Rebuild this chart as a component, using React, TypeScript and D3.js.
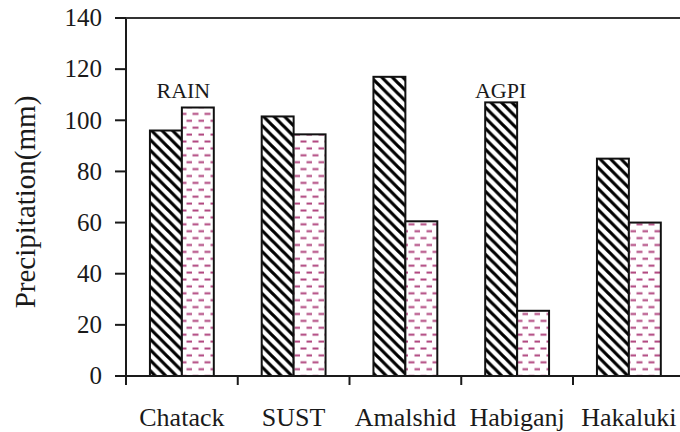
import React from "react";
import * as d3 from "d3";

const categories = ["Chatack", "SUST", "Amalshid", "Habiganj", "Hakaluki"];
const rainValues = [96, 101.5, 117, 107, 85];
const agpiValues = [105, 94.5, 60.5, 25.5, 60];
const yTicks = [0, 20, 40, 60, 80, 100, 120, 140];
const annotations = [
  { text: "RAIN", cat: "Chatack", offset: 0.5 },
  { text: "AGPI", cat: "Habiganj", offset: -0.05 },
];

const W = 680;
const H = 432;
const left = 126;
const top = 18;
const bottom = 376;
const bandW = 111.75;
const font = "Liberation Serif, DejaVu Serif";
const ink = "#1a1a1a";

export default function App() {
  const x = d3
    .scaleBand<string>()
    .domain(categories)
    .range([left, left + bandW * categories.length])
    .paddingInner(0)
    .paddingOuter(0);
  const y = d3.scaleLinear().domain([0, 140]).range([bottom, top]);
  const bw = x.bandwidth() / 3.5;
  const series = [
    { name: "RAIN", values: rainValues, fill: "url(#hatch)", idx: 0 },
    { name: "AGPI", values: agpiValues, fill: "url(#dash)", idx: 1 },
  ];
  const xTickPos = categories.map((c) => x(c)!).concat([x.range()[1]]);

  return (
    <svg
      width={W}
      height={H}
      style={{ position: "absolute", left: 0, top: 0, background: "#fff" }}
    >
      <defs>
        <pattern id="hatch" patternUnits="userSpaceOnUse" width={10.5} height={10.5}>
          <rect width={10.5} height={10.5} fill="#fff" />
          <path
            d="M-2.625,-2.625 L13.125,13.125 M-2.625,7.875 L2.625,13.125 M7.875,-2.625 L13.125,2.625"
            stroke="#000"
            strokeWidth={3.2}
          />
        </pattern>
        <pattern id="dash" patternUnits="userSpaceOnUse" width={12} height={13.8}>
          <rect width={12} height={13.8} fill="#fff" />
          <line x1={0.5} x2={6.5} y1={3.5} y2={3.5} stroke="#b0457e" strokeWidth={2} />
          <line x1={6.5} x2={12.5} y1={10.4} y2={10.4} stroke="#b0457e" strokeWidth={2} />
        </pattern>
      </defs>

      {series.map((s) =>
        categories.map((c, i) => {
          const x0 = x(c)! + 0.75 * bw + s.idx * bw;
          const y0 = y(s.values[i]);
          return (
            <rect
              key={s.name + c}
              x={x0}
              y={y0}
              width={bw}
              height={bottom - y0}
              fill={s.fill}
              stroke="#111"
              strokeWidth={2}
            />
          );
        })
      )}

      <line x1={left} x2={left} y1={top} y2={bottom} stroke={ink} strokeWidth={2} />
      <line x1={left} x2={W} y1={top} y2={top} stroke="#333" strokeWidth={2} />
      <line x1={left} x2={W} y1={bottom} y2={bottom} stroke={ink} strokeWidth={2} />
      {yTicks.map((t) => (
        <g key={t}>
          <line x1={115} x2={left} y1={y(t)} y2={y(t)} stroke={ink} strokeWidth={2} />
          <text
            x={102}
            y={y(t) + 8.3}
            textAnchor="end"
            fontFamily={font}
            fontSize={25}
            fill={ink}
          >
            {t}
          </text>
        </g>
      ))}
      {xTickPos.map((p, i) => (
        <line key={i} x1={p} x2={p} y1={bottom} y2={bottom + 9} stroke={ink} strokeWidth={2} />
      ))}
      {categories.map((c) => (
        <text
          key={c}
          x={x(c)! + x.bandwidth() / 2}
          y={426}
          textAnchor="middle"
          fontFamily={font}
          fontSize={26}
          fill={ink}
        >
          {c}
        </text>
      ))}
      <text
        transform={`translate(35,202) rotate(-90)`}
        textAnchor="middle"
        fontFamily={font}
        fontSize={29}
        fill={ink}
      >
        Precipitation(mm)
      </text>
      {annotations.map((a) => (
        <text
          key={a.text}
          x={x(a.cat)! + 0.75 * bw + bw * (0.5 + a.offset) + (a.text === "RAIN" ? 1.5 : 1)}
          y={98}
          textAnchor="middle"
          fontFamily={font}
          fontSize={22}
          fill={ink}
        >
          {a.text}
        </text>
      ))}
    </svg>
  );
}
